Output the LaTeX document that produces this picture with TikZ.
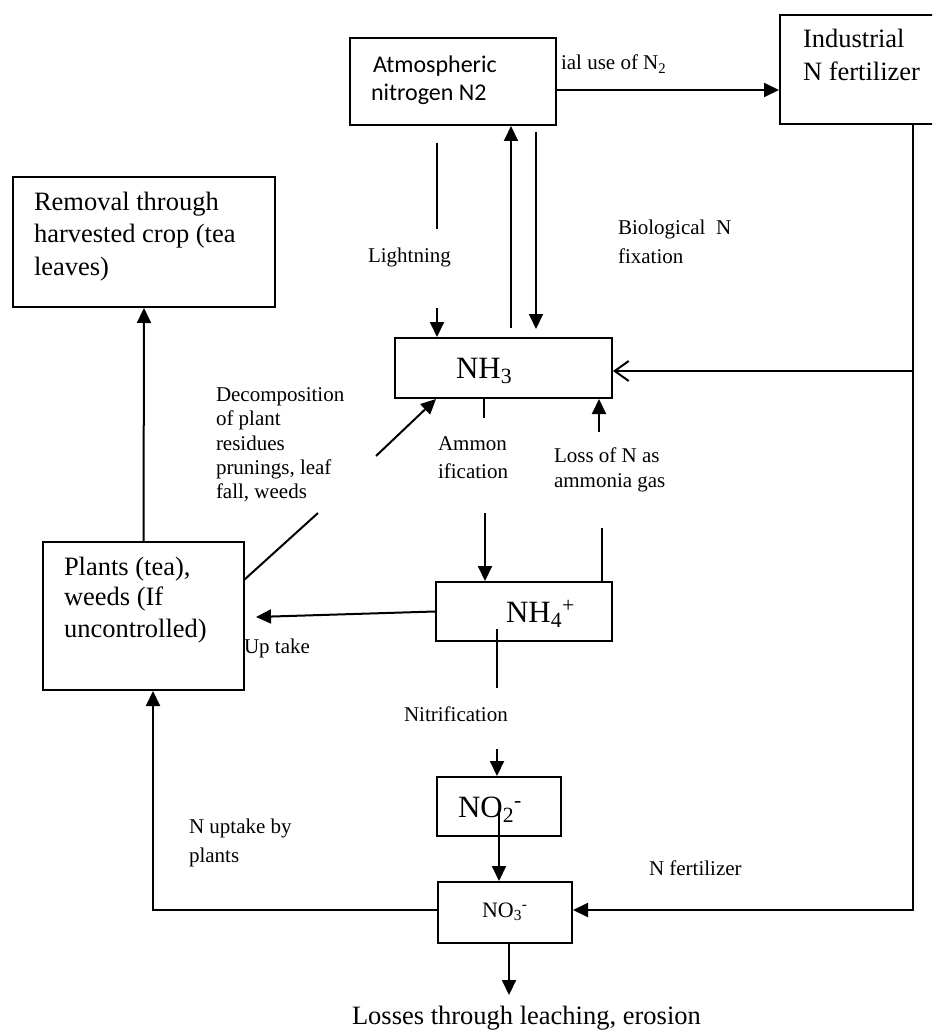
\documentclass[tikz,border=0pt]{standalone}
\usepackage{fontspec}
\setmainfont{Liberation Serif}
\newfontfamily\calibfont{Carlito}
\usetikzlibrary{arrows.meta}
\begin{document}
\begin{tikzpicture}[x=1pt,y=-1pt,line width=2pt,
 box/.style={draw,rectangle,inner sep=0pt},
 lab/.style={anchor=base west,inner sep=0pt,font=\fontsize{21}{25}\selectfont},
 big/.style={anchor=base west,inner sep=0pt,font=\fontsize{26.5}{31}\selectfont},
 chem/.style={anchor=base west,inner sep=0pt,font=\fontsize{31}{36}\selectfont},
 chemsm/.style={anchor=base west,inner sep=0pt,font=\fontsize{22}{26}\selectfont},
 sans/.style={anchor=base west,inner sep=0pt,font=\calibfont\fontsize{24}{28}\selectfont},
 arr/.style={-{Triangle[length=15pt,width=14pt]}},
 openarr/.style={-{Straight Barb[length=14pt,width=20pt]}}]
\useasboundingbox (0,0) rectangle (932,1032);
\clip (0,0) rectangle (932,1032);
% boxes
\node[box,minimum width=262pt,minimum height=130pt] (rem) at (144,242) {};
\node[box,minimum width=206pt,minimum height=87pt] (atm) at (453,81.5) {};
\node[box,minimum width=172pt,minimum height=109pt] (ind) at (866,69.5) {};
\node[box,minimum width=217pt,minimum height=60pt] (nh3) at (503.5,368) {};
\node[box,minimum width=201pt,minimum height=148pt] (plants) at (143.5,616) {};
\node[box,minimum width=176pt,minimum height=59pt] (nh4) at (524,611.5) {};
\node[box,minimum width=124pt,minimum height=59pt] (no2) at (499,806.5) {};
\node[box,minimum width=134pt,minimum height=61pt] (no3) at (505,912.5) {};
% box texts
\node[big] (rem1) at (33,211) {Removal through};
\node[big] (rem2) at (33,242) {harvested crop (tea};
\node[big] (rem3) at (33,275) {leaves)};
\node[sans] (atm1) at (372,73) {Atmospheric};
\node[sans] (atm2) at (370,101) {nitrogen N2};
\node[big] (ind1) at (802,48) {Industrial};
\node[big] (ind2) at (802,81) {N fertilizer};
\node[big] (pl1) at (63,575) {Plants (tea),};
\node[big] (pl2) at (63,605) {weeds (If};
\node[big] (pl3) at (63,637) {uncontrolled)};
\node[chem] (nh3t) at (455,378) {NH\textsubscript{3}};
\node[chem] (nh4t) at (505,622) {NH\textsubscript{4}\textsuperscript{+}};
\node[chem] (no2t) at (457,817) {NO\textsubscript{2}\textsuperscript{-}};
\node[chemsm] (no3t) at (481,917) {NO\textsubscript{3}\textsuperscript{-}};
\node[big] (losst) at (351,1024) {Losses through leaching, erosion};
% labels
\node[lab] (iu) at (560,70) {ial use of N\textsubscript{2}};
\node[lab] (lgt) at (367,262) {Lightning};
\node[lab] (bio1) at (617,235) {Biological\ \ N};
\node[lab] (bio2) at (617,263) {fixation};
\node[lab] (dec1) at (215,401) {Decomposition};
\node[lab] (dec2) at (215,425) {of plant};
\node[lab] (dec3) at (215,450) {residues};
\node[lab] (dec4) at (215,474) {prunings, leaf};
\node[lab] (dec5) at (215,498) {fall, weeds};
\node[lab] (am1) at (437,450) {Ammon};
\node[lab] (am2) at (437,478) {ification};
\node[lab] (lo1) at (553,462) {Loss of N as};
\node[lab] (lo2) at (553,487) {ammonia gas};
\node[lab] (upt) at (243,653) {Up take};
\node[lab] (nit) at (403,721) {Nitrification};
\node[lab] (nu1) at (188,833) {N uptake by};
\node[lab] (nu2) at (188,862) {plants};
\node[lab] (nf) at (648,875) {N fertilizer};
% coordinates for free ends
\coordinate (lgA) at (437,143);
\coordinate (lgB) at (437,229);
\coordinate (lgC) at (437,308);
\coordinate (upA) at (511,328);
\coordinate (bfA) at (536,132);
\coordinate (bfB) at (536,329);
\coordinate (c1) at (913,371);
\coordinate (c2) at (913,910);
\coordinate (amA) at (484,418);
\coordinate (amB) at (485,513);
\coordinate (lsA) at (602,528);
\coordinate (lsB) at (599,432);
\coordinate (upT) at (256,617);
\coordinate (niA) at (497,629);
\coordinate (niB) at (497,688);
\coordinate (niC) at (497,749);
\coordinate (nnA) at (499,812);
\coordinate (lsT) at (509,995);
\coordinate (pA) at (153,910);
\coordinate (dc1) at (244,580);
\coordinate (dc2) at (318,513);
\coordinate (dc3) at (376,456);
\coordinate (dc4) at (436,399);
% connectors
\draw[arr] ([yshift=-8.5pt]atm.east) -- ([yshift=-8.5pt]atm.east -| ind.west);
\draw (lgA) -- (lgB);
\draw[arr] (lgC) -- (lgC |- nh3.north);
\draw[arr] (upA) -- (upA |- atm.south);
\draw[arr] (bfA) -- (bfB);
\draw[arr] (ind.south -| c2) -- (c2) -- (c2 -| no3.east);
\draw[openarr] (c1) -- (c1 -| nh3.east);
\draw (amA |- nh3.south) -- (amA);
\draw[arr] (amB) -- (amB |- nh4.north);
\draw (lsA |- nh4.north) -- (lsA);
\draw[arr] (lsB) -- (lsB |- nh3.south);
\draw[arr] (nh4.west) -- (upT);
\draw (niA) -- (niB);
\draw[arr] (niC) -- (niC |- no2.north);
\draw[arr] (nnA) -- (nnA |- no3.north);
\draw[arr] (lsT |- no3.south) -- (lsT);
\draw[arr] (pA -| no3.west) -- (pA) -- (pA |- plants.south);
\draw[arr] (plants.north) -- (rem.south);
\draw (dc1) -- (dc2);
\draw[arr] (dc3) -- (dc4);
\end{tikzpicture}
\end{document}
